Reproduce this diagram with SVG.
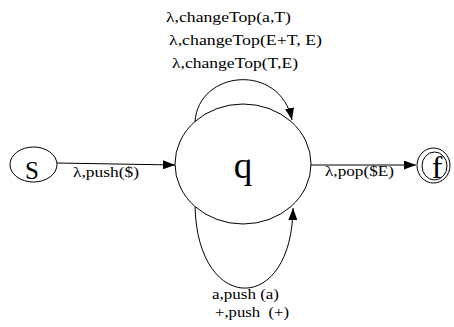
<svg xmlns="http://www.w3.org/2000/svg" width="454" height="327" viewBox="0 0 454 327">
<style>
.st{fill:none;stroke:#000;stroke-width:1}
.lb{font-size:15px}
.nm{text-anchor:middle}
</style>
<defs>
<marker id="arr" markerWidth="12" markerHeight="9" refX="12" refY="4.5" orient="auto" markerUnits="userSpaceOnUse">
<path d="M0,0 L12,4.5 L0,9 z" fill="#000"/>
</marker>
</defs>
<rect width="454" height="327" fill="#fff"/>
<g font-family="Liberation Serif, Times New Roman, serif" fill="#000">
<g id="connectors">
<path class="st" d="M57,163 L175,165" marker-end="url(#arr)"/>
<path class="st" d="M311,165 L416,165" marker-end="url(#arr)"/>
<path class="st" d="M195,122 C198,70 280,62 292,120" marker-end="url(#arr)"/>
<path class="st" d="M195,207 C198,315 292,315 293,208" marker-end="url(#arr)"/>
<text class="lb" x="73" y="177" textLength="66" lengthAdjust="spacingAndGlyphs">λ,push($)</text>
<text class="lb" x="325" y="176" textLength="69" lengthAdjust="spacingAndGlyphs">λ,pop($E)</text>
<text class="lb" x="166" y="22" textLength="125" lengthAdjust="spacingAndGlyphs">λ,changeTop(a,T)</text>
<text class="lb" x="169" y="45" textLength="153" lengthAdjust="spacingAndGlyphs">λ,changeTop(E+T, E)</text>
<text class="lb" x="172" y="68" textLength="126" lengthAdjust="spacingAndGlyphs">λ,changeTop(T,E)</text>
<text class="lb" x="212" y="299" textLength="67" lengthAdjust="spacingAndGlyphs">a,push (a)</text>
<text class="lb" x="215" y="317" textLength="74" lengthAdjust="spacingAndGlyphs" xml:space="preserve">+,push  (+)</text>
</g>
<g id="node-s">
<ellipse class="st" cx="33.5" cy="164.5" rx="23.5" ry="17.5"/>
<text class="nm" x="32" y="179" font-size="25">S</text>
</g>
<g id="node-q">
<ellipse class="st" cx="243" cy="164" rx="68" ry="60"/>
<text class="nm" x="243" y="178" font-size="37">q</text>
</g>
<g id="node-f">
<ellipse class="st" cx="433.5" cy="165.5" rx="16.5" ry="17.5"/>
<ellipse class="st" cx="434.5" cy="166" rx="12.5" ry="14"/>
<text class="nm" x="437" y="178" font-size="32">f</text>
</g>
</g>
</svg>
